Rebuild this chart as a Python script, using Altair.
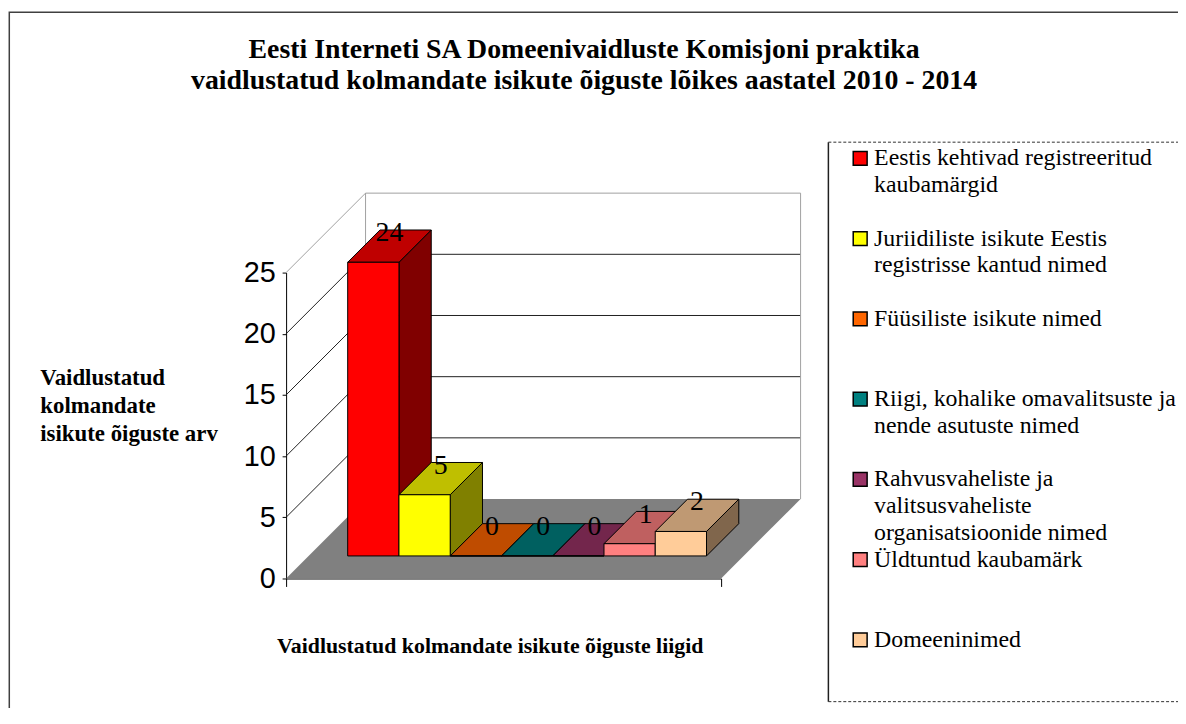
import altair as alt
import pandas as pd

# ---------------- data ----------------
CATEGORIES = [
    "Eestis kehtivad registreeritud kaubamärgid",
    "Juriidiliste isikute Eestis registrisse kantud nimed",
    "Füüsiliste isikute nimed",
    "Riigi, kohalike omavalitsuste ja nende asutuste nimed",
    "Rahvusvaheliste ja valitsusvaheliste organisatsioonide nimed",
    "Üldtuntud kaubamärk",
    "Domeeninimed",
]
VALUES = [24, 5, 0, 0, 0, 1, 2]
COLORS = ["#FF0000", "#FFFF00", "#FF6600", "#008080", "#993366", "#FF8080", "#FFCC99"]
LEGEND_LINES = [
    ["Eestis kehtivad registreeritud", "kaubamärgid"],
    ["Juriidiliste isikute Eestis", "registrisse kantud nimed"],
    ["Füüsiliste isikute nimed"],
    ["Riigi, kohalike omavalitsuste ja", "nende asutuste nimed"],
    ["Rahvusvaheliste ja", "valitsusvaheliste", "organisatsioonide nimed"],
    ["Üldtuntud kaubamärk"],
    ["Domeeninimed"],
]
AXIS_TICKS = [0, 5, 10, 15, 20, 25]
TITLE_LINES = [
    "Eesti Interneti SA Domeenivaidluste Komisjoni praktika",
    "vaidlustatud kolmandate isikute õiguste lõikes aastatel 2010 - 2014",
]
Y_TITLE = ["Vaidlustatud", "kolmandate", "isikute õiguste arv"]
X_TITLE = "Vaidlustatud kolmandate isikute õiguste liigid"

# ---------------- geometry / style ----------------
W, H = 438, 308
Y_MAX = 25
X_LO, X_HI = -1.262, 7.225
PPX = W / (X_HI - X_LO)
PPY = H / Y_MAX
FRONT, DEPTH, WALL = 22.7, 32.5, 80.0
SERIF = "Liberation Serif"
SANS = "Liberation Sans"


def ux(px):
    return px / PPX


def uy(px):
    return px / PPY


def shade(hexcol, f):
    h = hexcol.lstrip("#")
    r, g, b = (int(h[k:k + 2], 16) for k in (0, 2, 4))
    return "#%02x%02x%02x" % (round(r * f), round(g * f), round(b * f))


TOP_COLORS = [shade(c, 0.75) for c in COLORS]
SIDE_COLORS = [shade(c, 0.5) for c in COLORS]

xscale = alt.Scale(domain=[X_LO, X_HI], nice=False, zero=False)
yscale = alt.Scale(domain=[0, Y_MAX], nice=False, zero=False)

yaxis = alt.Axis(
    values=AXIS_TICKS, grid=False, title=Y_TITLE, titleAngle=0, titleAlign="left",
    titleBaseline="alphabetic", titleX=-248, titleY=113, titleFont=SERIF,
    titleFontSize=23, titleFontWeight="bold", titleColor="black", titleLineHeight=28,
    labelFont=SANS, labelFontSize=29, labelColor="black", labelPadding=7,
    tickSize=4, tickColor="black", domainColor="black", tickWidth=1, domainWidth=1,
)
xaxis = alt.Axis(
    values=[X_LO, X_HI], labels=False, grid=False, tickSize=8, tickColor="black",
    domainColor="black", title=X_TITLE, titleX=205, titleY=75, titleAlign="center",
    titleBaseline="alphabetic", titleFont=SERIF, titleFontSize=22,
    titleFontWeight="bold", titleColor="black",
)


def X(field, stack=False):
    if stack:
        return alt.X(field, type="quantitative", scale=xscale, axis=xaxis, stack=None)
    return alt.X(field, type="quantitative", scale=xscale, axis=xaxis)


def Y(field, stack=False):
    if stack:
        return alt.Y(field, type="quantitative", scale=yscale, axis=yaxis, stack=None)
    return alt.Y(field, type="quantitative", scale=yscale, axis=yaxis)


# ---------------- tables built from the arrays ----------------
front_rows, top_rows, side_rows, label_rows = [], [], [], []
for i, (cat, v) in enumerate(zip(CATEGORIES, VALUES)):
    front_rows.append({"cat": cat, "x": i - 0.5 + ux(FRONT), "x2": i + 0.5 + ux(FRONT),
                       "y": uy(FRONT), "y2": v + uy(FRONT)})
    for d in (FRONT, FRONT + DEPTH):
        top_rows.append({"cat": cat, "col": TOP_COLORS[i], "y": v + uy(d),
                         "x": i - 0.5 + ux(d), "x2": i + 0.5 + ux(d)})
        side_rows.append({"cat": cat, "col": SIDE_COLORS[i], "x": i + 0.5 + ux(d),
                          "y": uy(d), "y2": v + uy(d)})
    mid = FRONT + DEPTH / 2
    label_rows.append({"x": i + ux(mid), "y": v + uy(mid), "t": str(v)})

front_df = pd.DataFrame(front_rows)
top_df = pd.DataFrame(top_rows)
side_df = pd.DataFrame(side_rows)
label_df = pd.DataFrame(label_rows)

floor_df = pd.DataFrame([
    {"y": 0.0, "x": X_LO, "x2": X_HI},
    {"y": uy(WALL), "x": X_LO + ux(WALL), "x2": X_HI + ux(WALL)},
])

wall_rows = []
for v in AXIS_TICKS[1:]:
    col = "#a0a0a0" if v == Y_MAX else "#202020"
    wall_rows.append({"x": X_LO, "x2": X_LO + ux(WALL), "y": v, "y2": v + uy(WALL), "col": col})
    wall_rows.append({"x": X_LO + ux(WALL), "x2": X_HI + ux(WALL), "y": v + uy(WALL),
                      "y2": v + uy(WALL), "col": col})
for xx in (X_LO + ux(WALL), X_HI + ux(WALL)):
    wall_rows.append({"x": xx, "x2": xx, "y": uy(WALL), "y2": Y_MAX + uy(WALL), "col": "#a0a0a0"})
wall_df = pd.DataFrame(wall_rows)

# legend label wrapping: every entry is three lines tall
parts = []
for cat, lines in zip(CATEGORIES, LEGEND_LINES):
    padded = lines + [""] * (3 - len(lines))
    arr = "[" + ",".join("'" + s + "'" for s in padded) + "]"
    parts.append(f"datum.label == '{cat}' ? {arr} : ")
label_expr = "".join(parts) + "datum.label"

# ---------------- layers ----------------
one = pd.DataFrame({"k": [0]})

frame = alt.Chart(one).mark_rect(fill=None, stroke="#404040", strokeWidth=1.5).encode(
    x=alt.value(-278.7), x2=alt.value(930), y=alt.value(-262), y2=alt.value(470)
)

floor = alt.Chart(floor_df).mark_area(orient="horizontal", color="#808080").encode(
    y=Y("y"), x=X("x", stack=True), x2="x2"
)

walls = alt.Chart(wall_df).mark_rule(strokeWidth=1).encode(
    x=X("x"), x2="x2", y=Y("y"), y2="y2", color=alt.Color("col:N", scale=None)
)

sides = alt.Chart(side_df).mark_area(orient="vertical", stroke="black", strokeWidth=1).encode(
    x=X("x"), y=Y("y", stack=True), y2="y2",
    fill=alt.Fill("col:N", scale=None), detail="cat:N",
)

tops = alt.Chart(top_df).mark_area(orient="horizontal", stroke="black", strokeWidth=1).encode(
    y=Y("y"), x=X("x", stack=True), x2="x2",
    fill=alt.Fill("col:N", scale=None), detail="cat:N",
)

fronts = alt.Chart(front_df).mark_rect(stroke="black", strokeWidth=1).encode(
    x=X("x"), x2="x2", y=Y("y"), y2="y2",
    fill=alt.Fill(
        "cat:N", sort=CATEGORIES,
        scale=alt.Scale(domain=CATEGORIES, range=COLORS),
        legend=alt.Legend(
            orient="none", legendX=566, legendY=-120, title=None,
            symbolType="M-1,-2H1V0H-1Z", symbolSize=196, symbolStrokeColor="black",
            symbolStrokeWidth=1.5, labelFont=SERIF, labelFontSize=24,
            labelColor="black", labelLimit=420, labelBaseline="alphabetic",
            labelOffset=2, rowPadding=2.8, padding=0, labelExpr=label_expr,
        ),
    ),
)

labels = alt.Chart(label_df).mark_text(
    font=SERIF, fontSize=28, baseline="alphabetic", align="center", dy=-5, color="black"
).encode(x=X("x"), y=Y("y"), text="t:N")

legend_box_left = alt.Chart(one).mark_rule(color="#202020", strokeWidth=1.5).encode(
    x=alt.value(546), y=alt.value(-131.3), y2=alt.value(432)
)
legend_box_top = alt.Chart(one).mark_rule(color="#303030", strokeWidth=1, strokeDash=[3, 2]).encode(
    x=alt.value(546), x2=alt.value(920), y=alt.value(-131.3)
)
legend_box_bottom = alt.Chart(one).mark_rule(color="#303030", strokeWidth=1, strokeDash=[3, 2]).encode(
    x=alt.value(546), x2=alt.value(920), y=alt.value(432)
)

chart = alt.layer(
    frame, floor, walls, sides, tops, fronts, labels,
    legend_box_left, legend_box_top, legend_box_bottom,
).properties(
    width=W, height=H,
    autosize=alt.AutoSizeParams(type="none"),
    padding={"left": 280, "top": 264, "right": 460, "bottom": 128},
    title=alt.TitleParams(
        text=TITLE_LINES, font=SERIF, fontSize=28, fontWeight="bold", color="black",
        anchor="middle", frame="group", dx=81, offset=0, dy=84, lineHeight=31,
    ),
).configure(
    background="white", style={"guide-label": {"lineHeight": 27}}
).configure_view(stroke=None)

chart.save("out.html", embed_options={"renderer": "svg", "actions": False})
